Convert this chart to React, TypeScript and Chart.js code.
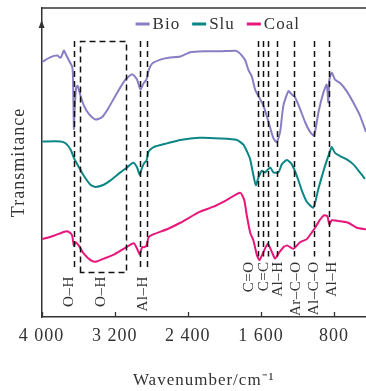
import React, { useEffect, useRef } from "react";
import { Chart, registerables } from "chart.js";

Chart.register(...registerables);

// x axis ticks (wavenumber, cm-1)
const xTickValues = [800, 1600, 2400, 3200, 4000];
const xTickLabels = ["800", "1 600", "2 400", "3 200", "4 000"];

const seriesNames = ["Bio", "Slu", "Coal"];
const seriesColors = ["#8A7DC4", "#0C8585", "#E8157A"];

const bioWavenumber = [3992, 3902, 3829, 3792, 3756, 3738, 3702, 3665, 3656, 3647, 3640, 3623, 3607, 3574, 3538, 3483, 3410, 3337, 3265, 3173, 3083, 3009, 2955, 2919, 2883, 2853, 2828, 2791, 2700, 2610, 2482, 2373, 2227, 2045, 1881, 1845, 1808, 1772, 1736, 1699, 1663, 1627, 1572, 1517, 1463, 1426, 1390, 1354, 1299, 1262, 1226, 1171, 1117, 1062, 1018, 971, 917, 880, 862, 851, 825, 789, 734, 661, 589, 516, 450];
const bioValue = [82.6, 84.1, 84.6, 83.9, 86.2, 85.2, 83.1, 81.0, 77.3, 60.9, 66.2, 74.1, 74.8, 71.6, 68.5, 65.7, 63.9, 64.7, 67.8, 72.6, 76.8, 78.6, 76.8, 73.6, 75.7, 76.8, 79.9, 82.0, 83.3, 83.9, 84.3, 85.7, 86.0, 86.0, 86.2, 85.7, 84.6, 83.1, 79.9, 77.8, 73.6, 71.5, 68.4, 63.1, 57.8, 56.6, 59.9, 68.4, 73.1, 72.0, 71.0, 67.3, 63.1, 59.9, 58.7, 66.2, 72.6, 75.2, 69.4, 76.8, 79.1, 76.8, 75.7, 73.1, 69.4, 65.2, 59.9];

const sluWavenumber = [3992, 3792, 3738, 3683, 3647, 3610, 3538, 3465, 3410, 3320, 3246, 3137, 3064, 2998, 2955, 2926, 2900, 2875, 2853, 2828, 2773, 2627, 2482, 2271, 2045, 1863, 1790, 1753, 1717, 1681, 1655, 1627, 1590, 1553, 1499, 1463, 1408, 1371, 1316, 1262, 1207, 1153, 1098, 1026, 971, 909, 869, 844, 825, 789, 734, 661, 589, 516, 461];
const sluValue = [56.8, 56.8, 56.2, 54.2, 51.5, 49.4, 45.7, 42.8, 42.1, 42.8, 44.2, 46.8, 48.4, 49.9, 48.4, 46.0, 48.4, 49.9, 50.5, 53.6, 55.0, 56.2, 57.3, 58.0, 57.8, 57.3, 55.7, 53.6, 51.0, 45.7, 42.6, 45.2, 47.3, 46.8, 48.4, 46.8, 46.8, 49.4, 50.8, 49.4, 45.7, 41.0, 37.3, 35.4, 41.5, 47.9, 51.5, 53.6, 55.0, 53.1, 52.1, 51.0, 49.4, 46.8, 44.7];

const coalWavenumber = [3992, 3866, 3738, 3691, 3665, 3647, 3629, 3593, 3538, 3465, 3410, 3320, 3210, 3101, 2992, 2955, 2926, 2900, 2875, 2853, 2828, 2773, 2627, 2482, 2271, 2118, 1972, 1827, 1783, 1753, 1717, 1681, 1644, 1616, 1572, 1524, 1480, 1444, 1408, 1354, 1310, 1244, 1171, 1098, 1007, 953, 909, 873, 851, 825, 734, 644, 552, 450];
const coalValue = [25.2, 26.3, 27.7, 27.3, 26.3, 23.1, 24.2, 23.1, 20.5, 18.4, 17.9, 18.9, 20.2, 22.1, 23.9, 22.1, 20.2, 22.6, 22.6, 23.1, 25.8, 26.8, 28.4, 30.5, 34.0, 35.7, 37.9, 40.2, 37.9, 32.6, 27.3, 24.7, 20.0, 18.4, 21.0, 23.7, 21.0, 18.9, 20.5, 22.6, 23.1, 22.1, 24.2, 25.2, 28.9, 31.5, 32.9, 32.6, 30.0, 31.3, 31.0, 30.5, 28.9, 28.4];

// band markers (wavenumbers)
const leftBandLines = [3647, 2919, 2846];
const rightBandLines = [1627, 1572, 1517, 1419, 1234, 1015, 851];
const bandBox = [3582, 3072];
const bandTop = 89.3;
const leftBandBottom = 15.1;
const rightBandBottom = 19.6;
const boxBottom = 14.5;

const leftLabelTexts = ["O–H", "O–H", "Al–H"];
const leftLabelWavenumbers = [3700, 3345, 2891];
const leftLabelTop = 13.2;
const rightLabelTexts = ["C=O", "C=C", "Al–H", "Ar–C–O", "Al–C–O", "Al–H"];
const rightLabelWavenumbers = [1728, 1570, 1415, 1210, 1014, 826];
const rightLabelTop = 18.0;

const FONT = '"Liberation Serif", "Times New Roman", serif';
const INK = "#333333";

const spacingPlugin = {
  id: "spacing",
  beforeUpdate(chart: any) {
    chart.ctx.letterSpacing = "1px";
  },
  beforeDraw(chart: any) {
    chart.ctx.letterSpacing = "1px";
  },
};

const overlayPlugin = {
  id: "overlay",
  afterDatasetsDraw(chart: any) {
    const { ctx, chartArea } = chart;
    const x = chart.scales.x;
    const y = chart.scales.y;
    ctx.save();

    // dashed band lines
    ctx.strokeStyle = "#111";
    ctx.lineWidth = 1.5;
    ctx.setLineDash([6, 4]);
    const vline = (w: number, b: number) => {
      const px = Math.round(x.getPixelForValue(w)) + 0.5;
      ctx.beginPath();
      ctx.moveTo(px, y.getPixelForValue(bandTop));
      ctx.lineTo(px, y.getPixelForValue(b));
      ctx.stroke();
    };
    leftBandLines.forEach((w) => vline(w, leftBandBottom));
    rightBandLines.forEach((w) => vline(w, rightBandBottom));
    const bx1 = Math.round(x.getPixelForValue(bandBox[0])) + 0.5;
    const bx2 = Math.round(x.getPixelForValue(bandBox[1])) + 0.5;
    const by1 = Math.round(y.getPixelForValue(bandTop)) + 0.5;
    const by2 = Math.round(y.getPixelForValue(boxBottom)) + 0.5;
    ctx.beginPath();
    ctx.moveTo(bx1, by2);
    ctx.lineTo(bx1, by1);
    ctx.lineTo(bx2, by1);
    ctx.lineTo(bx2, by2);
    ctx.closePath();
    ctx.stroke();
    ctx.setLineDash([]);

    // rotated band labels
    ctx.fillStyle = INK;
    ctx.font = `15px ${FONT}`;
    ctx.letterSpacing = "0.5px";
    ctx.textAlign = "right";
    ctx.textBaseline = "middle";
    const vlabel = (t: string, w: number, top: number) => {
      ctx.save();
      ctx.translate(x.getPixelForValue(w), y.getPixelForValue(top));
      ctx.rotate(-Math.PI / 2);
      ctx.fillText(t, 0, 0);
      ctx.restore();
    };
    leftLabelTexts.forEach((t, i) => vlabel(t, leftLabelWavenumbers[i], leftLabelTop));
    rightLabelTexts.forEach((t, i) => vlabel(t, rightLabelWavenumbers[i], rightLabelTop));

    // frame top line
    ctx.strokeStyle = INK;
    ctx.lineWidth = 1.5;
    ctx.beginPath();
    ctx.moveTo(chartArea.left, chartArea.top);
    ctx.lineTo(chartArea.right, chartArea.top);
    ctx.stroke();

    // inner tick marks
    ctx.lineWidth = 1.3;
    xTickValues.forEach((v) => {
      const px = Math.round(x.getPixelForValue(v)) + 0.5;
      ctx.beginPath();
      ctx.moveTo(px, chartArea.bottom);
      ctx.lineTo(px, chartArea.bottom - 5);
      ctx.stroke();
    });

    // arrow on y axis
    ctx.fillStyle = INK;
    ctx.beginPath();
    ctx.moveTo(chartArea.left, chartArea.top + 12);
    ctx.lineTo(chartArea.left - 3, chartArea.top + 20);
    ctx.lineTo(chartArea.left + 3, chartArea.top + 20);
    ctx.closePath();
    ctx.fill();

    // legend
    ctx.font = `17px ${FONT}`;
    ctx.letterSpacing = "1px";
    ctx.textAlign = "left";
    ctx.textBaseline = "middle";
    let sx = chartArea.left + 94;
    const ly = chartArea.top + 16;
    chart.data.datasets.forEach((ds: any) => {
      ctx.strokeStyle = ds.borderColor;
      ctx.lineWidth = 3;
      ctx.beginPath();
      ctx.moveTo(sx, ly);
      ctx.lineTo(sx + 14, ly);
      ctx.stroke();
      ctx.fillStyle = INK;
      ctx.fillText(ds.label, sx + 17, ly + 1);
      sx += 17 + ctx.measureText(ds.label).width + 12;
    });

    ctx.restore();
  },
};

export default function App() {
  const canvasRef = useRef<HTMLCanvasElement | null>(null);

  useEffect(() => {
    if (!canvasRef.current) return;
    const wns = [bioWavenumber, sluWavenumber, coalWavenumber];
    const vals = [bioValue, sluValue, coalValue];
    const chart = new Chart(canvasRef.current, {
      type: "line",
      data: {
        datasets: seriesNames.map((name, i) => ({
          label: name,
          data: wns[i].map((w, j) => ({ x: w, y: vals[i][j] })),
          borderColor: seriesColors[i],
          backgroundColor: seriesColors[i],
          borderWidth: 2,
          pointRadius: 0,
          tension: 0.2,
          fill: false,
        })),
      },
      options: {
        animation: false,
        responsive: true,
        maintainAspectRatio: false,
        layout: { padding: { left: 4, top: 8, right: 0, bottom: 0 } },
        plugins: { legend: { display: false }, tooltip: { enabled: false } },
        scales: {
          x: {
            type: "linear",
            min: 450,
            max: 4000,
            reverse: true,
            afterBuildTicks: (axis: any) => {
              axis.ticks = xTickValues.map((v) => ({ value: v }));
            },
            ticks: {
              autoSkip: false,
              maxRotation: 0,
              padding: 8,
              color: INK,
              font: { family: FONT, size: 18 },
              callback: (value: any) => {
                const idx = xTickValues.indexOf(Number(value));
                return idx >= 0 ? xTickLabels[idx] : "";
              },
            },
            grid: { display: false, drawTicks: false },
            border: { display: true, color: INK, width: 1.5 },
            title: {
              display: true,
              text: "Wavenumber/cm⁻¹",
              color: INK,
              font: { family: FONT, size: 17 },
              padding: { top: 16, bottom: 0 },
            },
          },
          y: {
            type: "linear",
            min: 0,
            max: 100,
            ticks: { display: false },
            grid: { display: false, drawTicks: false },
            border: { display: true, color: INK, width: 1.5 },
            title: {
              display: true,
              text: "Transmitance",
              color: INK,
              font: { family: FONT, size: 18 },
              padding: { top: 4, bottom: 12 },
            },
          },
        },
      },
      plugins: [spacingPlugin, overlayPlugin],
    });
    return () => chart.destroy();
  }, []);

  return (
    <div style={{ position: "fixed", left: 0, top: 0, width: 366, height: 391, background: "#fff" }}>
      <canvas ref={canvasRef} />
    </div>
  );
}
